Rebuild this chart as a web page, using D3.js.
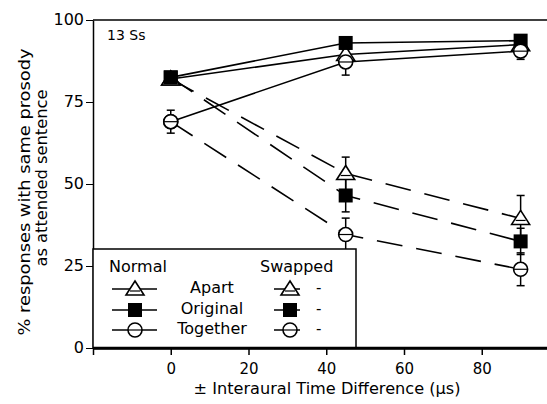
<!DOCTYPE html>
<html>
<head>
<meta charset="utf-8">
<script src="https://cdn.jsdelivr.net/npm/d3@7"></script>
<style>
  body { margin: 0; background: #fff; }
  svg text { font-family: "DejaVu Sans", "Liberation Sans", Arial, sans-serif; fill: #000; }
  .axis path, .axis line { stroke: #000; }
</style>
</head>
<body>
<svg id="chart" width="547" height="404"></svg>
<script>
// Chart data
const itd        = [0, 45, 90];
const conditions = ['Apart', 'Original', 'Together'];
const symbols    = ['triangle', 'square', 'circle'];

const normalApart     = [82, 89.5, 92.5];
const normalOriginal  = [82.5, 93, 93.7];
const normalTogether  = [69, 87.2, 90.5];
const swappedApart    = [82, 53.2, 39.5];
const swappedOriginal = [82.5, 46.5, 32.5];
const swappedTogether = [69, 34.6, 24];

const normalApartErr     = [0, 1.5, 1.5];
const normalOriginalErr  = [0, 1, 1];
const normalTogetherErr  = [3.5, 4, 2.5];
const swappedApartErr    = [0, 5, 7];
const swappedOriginalErr = [0, 5, 4];
const swappedTogetherErr = [0, 5, 5];

const yTicks = [0, 25, 50, 75, 100];
const xTicks = [-20, 0, 20, 40, 60, 80];

const series = [
    {group:'Swapped', sym:'triangle', vals:swappedApart,    err:swappedApartErr},
    {group:'Swapped', sym:'square',   vals:swappedOriginal, err:swappedOriginalErr},
    {group:'Swapped', sym:'circle',   vals:swappedTogether, err:swappedTogetherErr},
    {group:'Normal',  sym:'triangle', vals:normalApart,     err:normalApartErr},
    {group:'Normal',  sym:'square',   vals:normalOriginal,  err:normalOriginalErr},
    {group:'Normal',  sym:'circle',   vals:normalTogether,  err:normalTogetherErr}
];

const svg = d3.select('#chart');

// Scales: plot spans x 93..(cut off at right), y 20..348
const x = d3.scaleLinear().domain([-20, 100]).range([93, 559.5]);
const y = d3.scaleLinear().domain([0, 100]).range([348, 20]);

// Marker drawing helper
function drawMarker(g, sym, cx, cy) {
    if (sym === 'triangle') {
        g.append('path')
         .attr('d', `M${cx},${cy-8} L${cx+9},${cy+6} L${cx-9},${cy+6} Z`)
         .attr('fill', '#fff').attr('stroke', '#000').attr('stroke-width', 1.6);
        g.append('line').attr('x1', cx-5).attr('x2', cx+5).attr('y1', cy+2).attr('y2', cy+2)
         .attr('stroke', '#000').attr('stroke-width', 1.2);
    } else if (sym === 'square') {
        g.append('rect').attr('x', cx-7).attr('y', cy-7).attr('width', 14).attr('height', 14)
         .attr('fill', '#000');
    } else {
        g.append('circle').attr('cx', cx).attr('cy', cy).attr('r', 7)
         .attr('fill', '#fff').attr('stroke', '#000').attr('stroke-width', 1.6);
        g.append('line').attr('x1', cx-7).attr('x2', cx+7).attr('y1', cy).attr('y2', cy)
         .attr('stroke', '#000').attr('stroke-width', 1.2);
    }
}

// Top frame line
svg.append('line').attr('x1', 93).attr('x2', 547).attr('y1', y(100)).attr('y2', y(100))
   .attr('stroke', '#000').attr('stroke-width', 1.5);

// Axes
svg.append('g').attr('class', 'axis').attr('transform', 'translate(93,0)')
   .call(d3.axisLeft(y).tickValues(yTicks).tickSize(7).tickSizeOuter(0))
   .call(g => g.select('.domain').attr('stroke-width', 1.5))
   .call(g => g.selectAll('text').attr('font-size', 16).attr('x', -9).attr('dy', '0.25em'));

svg.append('g').attr('class', 'axis').attr('transform', 'translate(0,348)')
   .call(d3.axisBottom(x).tickValues(xTicks).tickSize(7).tickSizeOuter(0)
           .tickFormat(d => d < 0 ? '' : d))
   .call(g => g.select('.domain').attr('stroke-width', 2.5))
   .call(g => g.selectAll('line').attr('stroke-width', 1.5))
   .call(g => g.selectAll('text').attr('font-size', 15).attr('y', 26).attr('dy', 0));

// Lines
const line = d3.line().x((d, i) => x(itd[i])).y(d => y(d));
const plot = svg.append('g');
series.forEach(s => {
    plot.append('path').datum(s.vals).attr('d', line)
        .attr('fill', 'none').attr('stroke', '#000').attr('stroke-width', 1.6)
        .attr('stroke-dasharray', s.group === 'Swapped' ? '26,14' : null);
});

// Error bars
series.forEach(s => {
    s.vals.forEach((v, i) => {
        if (!s.err[i]) return;
        const cx = x(itd[i]);
        plot.append('line').attr('x1', cx).attr('x2', cx)
            .attr('y1', y(v + s.err[i])).attr('y2', y(v - s.err[i]))
            .attr('stroke', '#000').attr('stroke-width', 1.5);
        [v + s.err[i], v - s.err[i]].forEach(e => {
            plot.append('line').attr('x1', cx-4).attr('x2', cx+4)
                .attr('y1', y(e)).attr('y2', y(e))
                .attr('stroke', '#000').attr('stroke-width', 1.5);
        });
    });
});

// Markers
series.forEach(s => {
    s.vals.forEach((v, i) => drawMarker(plot, s.sym, x(itd[i]), y(v)));
});

// "13 Ss" label
svg.append('text').attr('x', 107).attr('y', 40).attr('font-size', 14).text('13 Ss');

// Legend box
const leg = svg.append('g');
leg.append('rect').attr('x', 93).attr('y', 249).attr('width', 263).attr('height', 99)
   .attr('fill', '#fff').attr('stroke', '#000').attr('stroke-width', 1.5);
leg.append('text').attr('x', 109).attr('y', 272).attr('font-size', 16).text('Normal');
leg.append('text').attr('x', 260).attr('y', 272).attr('font-size', 16).text('Swapped');
const rowY = [289, 310, 330];
conditions.forEach((c, i) => {
    const ry = rowY[i];
    leg.append('line').attr('x1', 112).attr('x2', 157).attr('y1', ry).attr('y2', ry)
       .attr('stroke', '#000').attr('stroke-width', 1.5);
    drawMarker(leg, symbols[i], 135, ry);
    leg.append('text').attr('x', 212).attr('y', ry + 4).attr('font-size', 16)
       .attr('text-anchor', 'middle').text(c);
    leg.append('line').attr('x1', 274).attr('x2', 300).attr('y1', ry).attr('y2', ry)
       .attr('stroke', '#000').attr('stroke-width', 1.5);
    drawMarker(leg, symbols[i], 290, ry);
    leg.append('text').attr('x', 316).attr('y', ry + 4).attr('font-size', 15).text('-');
});
// redraw bottom axis line over legend box
svg.append('line').attr('x1', 93).attr('x2', 547).attr('y1', 348).attr('y2', 348)
   .attr('stroke', '#000').attr('stroke-width', 2.5);

// Axis titles
svg.append('text').attr('x', 327).attr('y', 394).attr('font-size', 15)
   .attr('text-anchor', 'middle')
   .attr('textLength', 267).attr('lengthAdjust', 'spacingAndGlyphs')
   .text('± Interaural Time Difference (µs)');
svg.append('text').attr('transform', 'translate(30,192) rotate(-90)')
   .attr('font-size', 16).attr('text-anchor', 'middle')
   .attr('textLength', 287).attr('lengthAdjust', 'spacingAndGlyphs')
   .text('% responses with same prosody');
svg.append('text').attr('transform', 'translate(47,178) rotate(-90)')
   .attr('font-size', 16).attr('text-anchor', 'middle')
   .attr('textLength', 177).attr('lengthAdjust', 'spacingAndGlyphs')
   .text('as attended sentence');
</script>
</body>
</html>
